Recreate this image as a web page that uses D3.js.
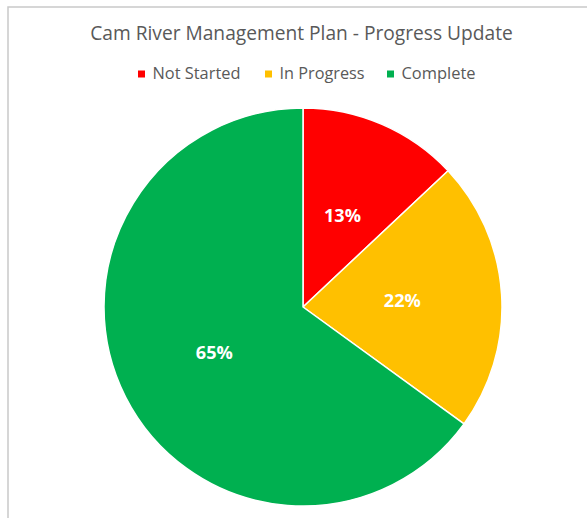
<!DOCTYPE html>
<html>
<head>
<meta charset="utf-8">
<script src="https://cdn.jsdelivr.net/npm/d3@7/dist/d3.min.js"></script>
<style>
  html, body { margin: 0; padding: 0; background: #fff; }
  svg { display: block; }
</style>
</head>
<body>
<script>
// ---- data ----
const title = "Cam River Management Plan - Progress Update";
const categories = ["Not Started", "In Progress", "Complete"];
const values = [13, 22, 65];
const colors = ["#FF0000", "#FFC000", "#00B050"];

const W = 587, H = 518;
const cx = 303, cy = 307, R = 199;
const FONT = "'Open Sans', 'Noto Sans', sans-serif";

const svg = d3.select("body").append("svg").attr("width", W).attr("height", H);

// chart border (extends beyond the window on right/bottom)
svg.append("rect")
  .attr("x", 8).attr("y", 7).attr("width", 700).attr("height", 700)
  .attr("fill", "#fff").attr("stroke", "#c9c9c9").attr("stroke-width", 1.5);

// fit text to a target width
function fit(sel, target, maxSize) {
  let s = maxSize;
  sel.attr("font-size", s);
  const w = sel.node().getComputedTextLength();
  s = s * target / w;
  sel.attr("font-size", s);
  return s;
}

// title
const t = svg.append("text")
  .attr("x", (90 + 513) / 2).attr("y", 40)
  .attr("text-anchor", "middle")
  .attr("font-family", FONT).attr("fill", "#595959")
  .text(title);
fit(t, 423, 20);

// legend
const legendX = [138, 265, 387];
const legendW = [88, 85, 74];
const lg = svg.append("g");
categories.forEach((c, i) => {
  lg.append("rect")
    .attr("x", legendX[i]).attr("y", 70.5).attr("width", 7).attr("height", 7)
    .attr("fill", colors[i]);
  const tx = lg.append("text")
    .attr("x", legendX[i] + 14.5).attr("y", 78.5)
    .attr("font-family", FONT).attr("fill", "#595959")
    .text(c);
  fit(tx, legendW[i], 16);
});

// pie
const pie = d3.pie().sort(null).value(d => d);
const arcs = pie(values);
const arc = d3.arc().innerRadius(0).outerRadius(R);
const labelArc = d3.arc().innerRadius(R * 0.5).outerRadius(R * 0.5);

const g = svg.append("g").attr("transform", `translate(${cx},${cy})`);
g.selectAll("path.slice").data(arcs).enter().append("path")
  .attr("class", "slice")
  .attr("d", arc)
  .attr("fill", (d, i) => colors[i])
  .attr("stroke", "#fff").attr("stroke-width", 1.5)
  .attr("stroke-linejoin", "round");

const total = d3.sum(values);
const lbls = g.selectAll("text.lbl").data(arcs).enter().append("text")
  .attr("class", "lbl")
  .attr("transform", d => `translate(${labelArc.centroid(d)})`)
  .attr("text-anchor", "middle").attr("dy", "0.36em")
  .attr("font-family", FONT).attr("font-weight", "bold")
  .attr("fill", "#fff")
  .text(d => Math.round(d.value / total * 100) + "%");
lbls.each(function () { fit(d3.select(this), 37, 18); });
</script>
</body>
</html>
